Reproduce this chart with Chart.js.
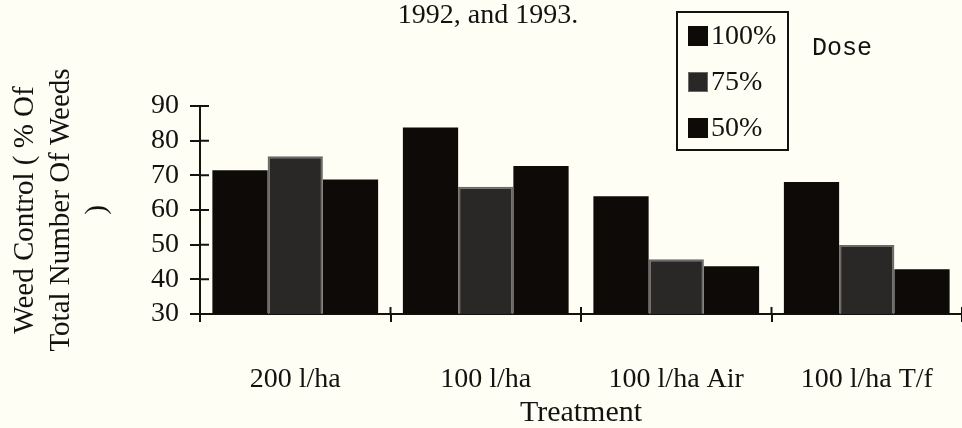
<!DOCTYPE html>
<html lang="en">
<head>
  <meta charset="UTF-8" />
  <title>Weed Control by Treatment</title>
  <script src="https://cdn.jsdelivr.net/npm/chart.js"></script>
  <style>
    * { box-sizing: border-box; margin: 0; padding: 0; }
    html, body { width: 962px; height: 428px; overflow: hidden; background: #fefef4; }
    #wrap { position: relative; width: 962px; height: 428px; }
  </style>
</head>
<body>
  <div id="wrap"><canvas id="weedChart"></canvas></div>
  <script>
    // data
    const treatments = ['200 l/ha', '100 l/ha', '100 l/ha Air', '100 l/ha T/f'];
    const doseLabels = ['100%', '75%', '50%'];
    const dose100 = [71.5, 83.8, 64.0, 68.1];
    const dose75 = [75.5, 66.7, 45.8, 49.9];
    const dose50 = [68.8, 72.7, 43.8, 42.9];
    const yTicks = [30, 40, 50, 60, 70, 80, 90];

    const serif = "'Liberation Serif', 'Times New Roman', serif";
    const ink = '#141210';

    // ticks that cross the axis line (Chart.js only draws the outer half)
    const crossTicks = {
      id: 'crossTicks',
      afterDraw(chart) {
        const { ctx, chartArea, scales } = chart;
        ctx.save();
        ctx.strokeStyle = ink;
        ctx.lineWidth = 2;
        ctx.beginPath();
        scales.y.ticks.forEach((t, i) => {
          const y = scales.y.getPixelForTick(i);
          ctx.moveTo(chartArea.left, y);
          ctx.lineTo(chartArea.left + 9, y);
        });
        const n = treatments.length;
        const w = (scales.x.right - scales.x.left) / n;
        for (let k = 0; k <= n; k++) {
          const x = scales.x.left + k * w;
          ctx.moveTo(x, chartArea.bottom);
          ctx.lineTo(x, chartArea.bottom - 7);
        }
        ctx.stroke();
        ctx.restore();
      }
    };

    // boxed legend, title line and the "Dose" note
    const extras = {
      id: 'extras',
      afterDraw(chart) {
        const { ctx } = chart;
        ctx.save();
        ctx.fillStyle = ink;
        ctx.font = '28px ' + serif;
        ctx.textAlign = 'center';
        ctx.textBaseline = 'alphabetic';
        ctx.fillText('1992, and 1993.', 488, 23);

        // legend box
        ctx.strokeStyle = ink;
        ctx.lineWidth = 2;
        ctx.strokeRect(677, 12, 111, 138);
        ctx.textAlign = 'left';
        ctx.textBaseline = 'middle';
        chart.data.datasets.forEach((ds, i) => {
          const cy = 36 + i * 46;
          ctx.fillStyle = ds.backgroundColor;
          ctx.fillRect(688, cy - 10, 20, 20);
          if (i === 1) {
            ctx.strokeStyle = '#6b6a66';
            ctx.lineWidth = 1;
            ctx.strokeRect(688.5, cy - 9.5, 19, 19);
          }
          ctx.fillStyle = ink;
          ctx.font = '28px ' + serif;
          ctx.fillText(ds.label, 711, cy + 1);
        });

        ctx.font = "25px 'Liberation Mono', 'DejaVu Sans Mono', monospace";
        ctx.fillText('Dose', 812, 48);
        ctx.restore();
      }
    };

    const ctx = document.getElementById('weedChart').getContext('2d');
    new Chart(ctx, {
      type: 'bar',
      data: {
        labels: treatments,
        datasets: [
          { label: doseLabels[0], data: dose100, backgroundColor: '#0e0a08', borderWidth: 0 },
          { label: doseLabels[1], data: dose75, backgroundColor: '#2a2826', borderColor: '#6b6a66',
            borderWidth: { left: 2, right: 2, top: 2, bottom: 0 } },
          { label: doseLabels[2], data: dose50, backgroundColor: '#0e0a08', borderWidth: 0 }
        ]
      },
      options: {
        responsive: true,
        maintainAspectRatio: false,
        animation: false,
        layout: { padding: { top: 106, right: 0, left: 0, bottom: 0 } },
        datasets: { bar: { categoryPercentage: 0.87, barPercentage: 1.0 } },
        plugins: {
          legend: { display: false },
          title: { display: false },
          tooltip: { enabled: false }
        },
        scales: {
          x: {
            offset: true,
            afterFit(scale) {
              scale.height = 114;
              scale.paddingLeft = 0;
              scale.paddingRight = 0;
            },
            grid: { offset: true, drawOnChartArea: false, color: ink, lineWidth: 2, tickLength: 8 },
            border: { color: ink, width: 2 },
            ticks: { color: ink, padding: 41, font: { family: serif, size: 28 }, maxRotation: 0, autoSkip: false },
            title: { display: true, text: 'Treatment', color: ink, font: { family: serif, size: 30, lineHeight: 1.0 }, padding: { top: 0, bottom: 0 } }
          },
          y: {
            min: yTicks[0],
            max: yTicks[yTicks.length - 1],
            afterFit(scale) { scale.width = 200; },
            afterBuildTicks(scale) { scale.ticks = yTicks.map(v => ({ value: v })); },
            grid: { drawOnChartArea: false, color: ink, lineWidth: 2, tickLength: 10 },
            border: { color: ink, width: 2 },
            ticks: { color: ink, padding: 11, autoSkip: false, font: { family: serif, size: 28 } },
            title: {
              display: true,
              text: ['Weed Control ( % Of', 'Total Number Of Weeds', ')'],
              color: ink,
              font: { family: serif, size: 29, lineHeight: 1.25 },
              padding: { top: 7, bottom: 0 }
            }
          }
        }
      },
      plugins: [crossTicks, extras]
    });
  </script>
</body>
</html>
